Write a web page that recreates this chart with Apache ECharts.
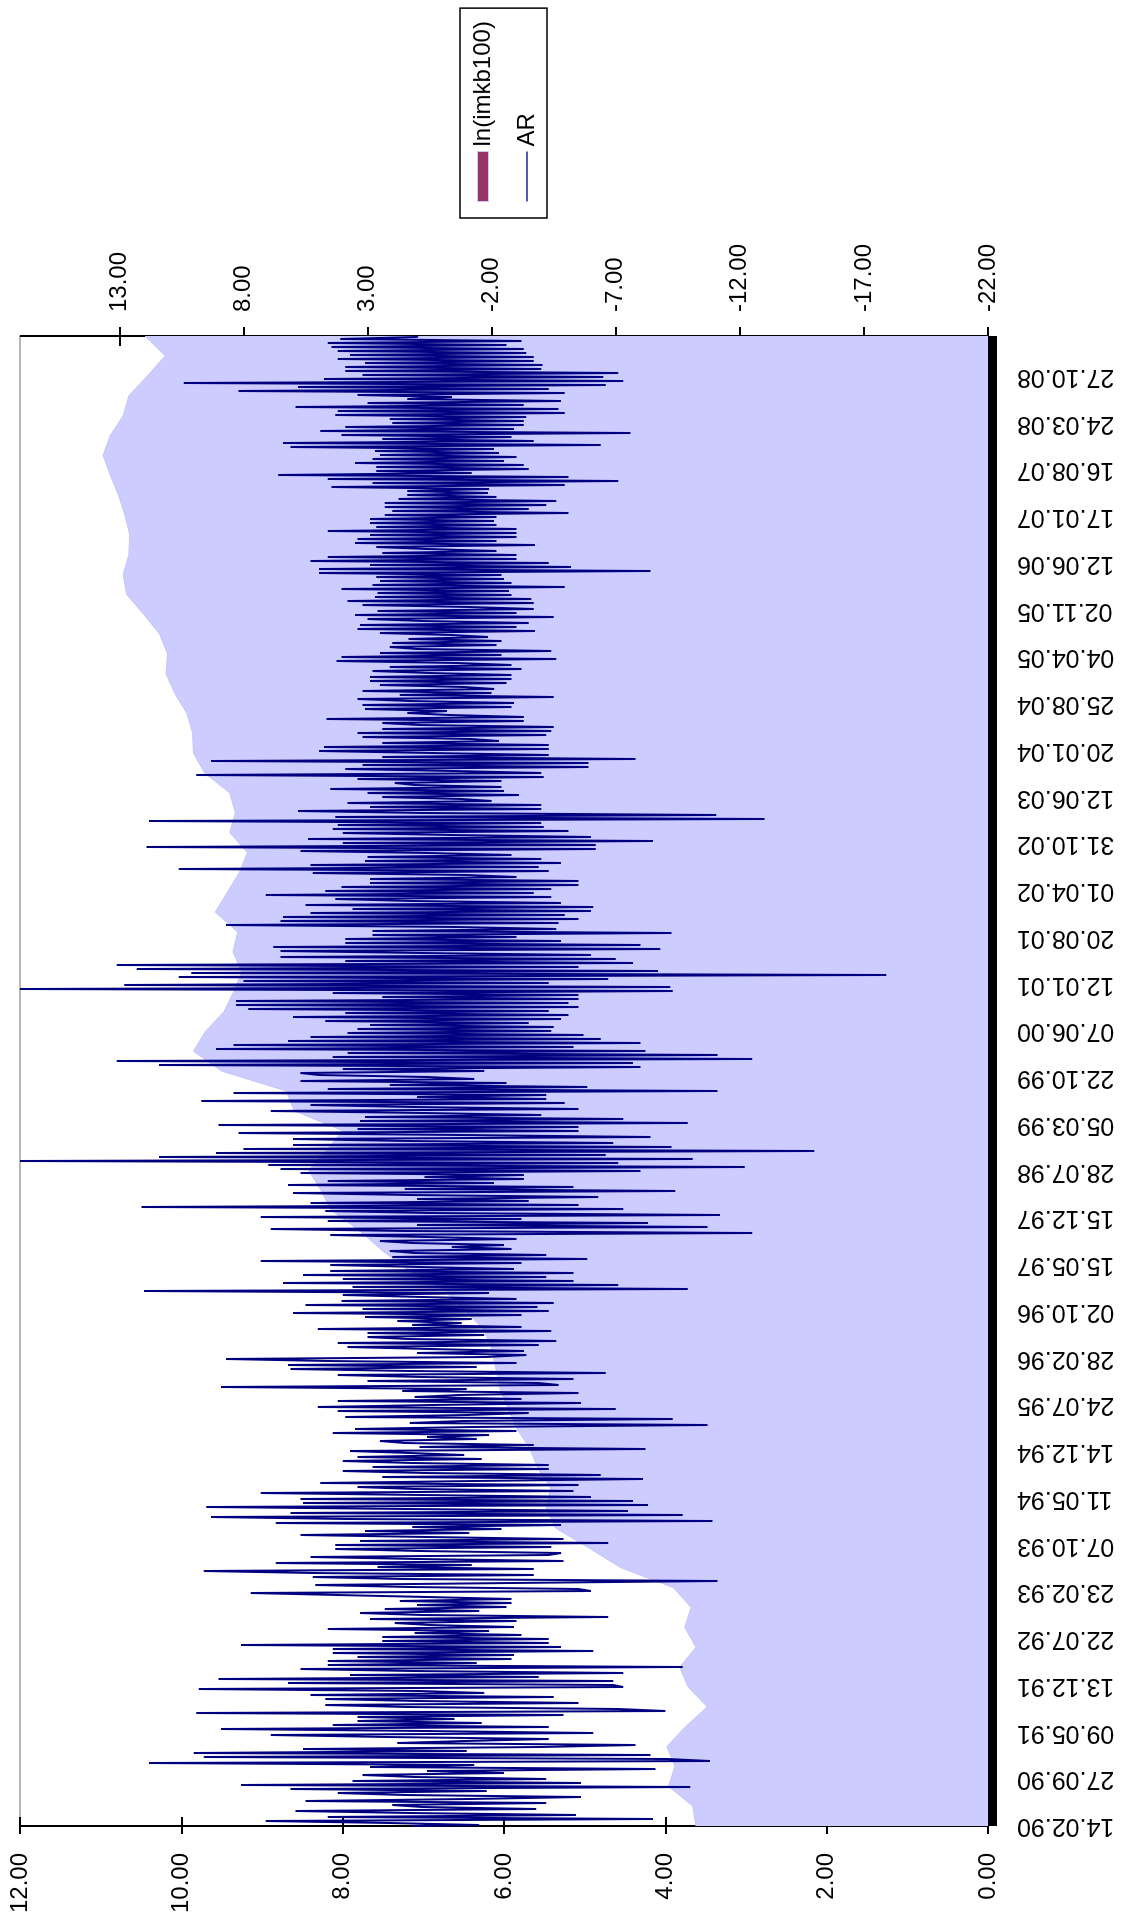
<!DOCTYPE html>
<html>
<head>
<meta charset="utf-8">
<script src="https://cdn.jsdelivr.net/npm/echarts@6/dist/echarts.min.js"></script>
<style>
html,body{margin:0;padding:0;width:1126px;height:1919px;overflow:hidden;background:#ffffff;}
#chart{position:absolute;left:0;top:0;width:1919px;height:1126px;transform-origin:0 0;transform:translate(0,1919px) rotate(-90deg);background:#fff;}
</style>
</head>
<body>
<div id="chart"></div>
<script>
// ---- tick labels (category dates, one every LABEL_STEP trading days) ----
const dateLabels = ['14.02.90','27.09.90','09.05.91','13.12.91','22.07.92','23.02.93','07.10.93','11.05.94',
  '14.12.94','24.07.95','28.02.96','02.10.96','15.05.97','15.12.97','28.07.98','05.03.99','22.10.99',
  '07.06.00','12.01.01','20.08.01','01.04.02','31.10.02','12.06.03','20.01.04','25.08.04','04.04.05',
  '02.11.05','12.06.06','17.01.07','16.08.07','24.03.08','27.10.08'];
const TRADING_DAYS = 4782;
const LABEL_STEP = 150;
const lnTicks = [0, 2, 4, 6, 8, 10, 12];
const arTicks = [-22, -17, -12, -7, -2, 3, 8, 13];

// ---- ln(imkb100), read along the whole period (evenly spaced) ----
const lnValues = [3.62,3.66,3.96,3.88,3.98,3.75,3.48,3.72,3.82,3.62,
  3.76,3.68,3.90,4.55,4.95,5.36,5.48,5.42,5.58,5.68,
  5.84,5.95,6.05,6.10,6.15,6.25,6.50,6.75,7.20,7.52,
  7.80,8.14,8.27,8.42,8.20,8.00,8.60,8.70,9.50,9.85,
  9.70,9.47,9.35,9.25,9.36,9.30,9.58,9.43,9.28,9.18,
  9.40,9.33,9.40,9.71,9.85,9.86,9.93,10.08,10.19,10.17,
  10.27,10.47,10.68,10.72,10.65,10.64,10.70,10.78,10.88,10.97,
  10.88,10.72,10.65,10.42,10.20,10.45];

// ---- AR (returns), read period by period (evenly spaced samples) ----
const ar1990_92 = [1.2,-1.5,2.1,7.1,-8.5,4.6,-5.4,1.3,5.9,-3.8,
  0.8,2.0,-4.2,5.5,-1.1,-5.6,1.5,4.2,-1.8,6.1,
  -10.0,8.1,-5.6,3.6,-4.2,1.1,3.2,-2.5,0.6,-8.6,
  2.9,-1.3,11.8,-10.8,-9.1,9.6,-8.4,10.0,-1.0,5.6,
  -4.0,-7.8,1.8,-0.9,-4.3,2.2,6.9,-6.1,0.7,8.9,
  -4.3,4.4,-1.6,3.4,-0.5,3.4,-4.9,9.9,-9.0,-7.1,
  1.4,4.7,-5.5,1.0,4.7,-4.5,5.3,-1.7,0.9,9.8,
  -7.3,-6.9,6.2,-6.9,9.0,-3.9,3.7,-7.3,1.2,5.7,
  -9.7,4.6,-1.4,4.6,-2.8,3.4,-2.9,4.4,-6.1,4.4,
  -4.8,8.1,-4.3,2.4,-4.3,2.4,-3.2,1.1,-1.9,4.6,
  -2.9,0.5,1.9,-3.0,2.9,-6.7,0.8,3.3,-1.5,2.3,
  -2.6,1.0,-2.8,1.7,-2.8,0.6,4.2,7.7,-6.0,-5.5,
  1.3,5.1,-2.8,-11.1,1.6,5.2,-3.7,5.2,9.6];
const ar1992_95 = [-3.7,2.6,-1.2,6.7,-4.9,1.0,5.3,-4.3,-4.8,0.9,
  4.3,-4.4,4.3,-6.7,3.3,-4.9,0.6,5.7,-1.1,3.1,
  -2.4,1.2,-4.8,6.7,-10.9,3.8,9.3,-9.7,6.1,-7.5,
  1.4,9.5,-8.3,5.6,-7.7,5.7,-6.0,0.8,7.3,-5.3,
  1.1,3.4,-5.5,4.9,-1.3,-8.1,2.4,-6.4,0.7,4.0,
  -4.3,2.8,-4.3,1.2,4.0,-1.6,3.4,-0.9,1.3,3.7,
  -8.2,0.9,-3.7,1.5,2.5,-1.4,0.6,-1.9,4.4,-3.0,
  3.5,-1.2,-10.7,1.3,-0.8,-9.3,3.9,-1.0,-3.5,4.2,
  -7.0,5.0,0.4,-5.6,4.2,-3.2,1.1,-0.7,-5.5,1.6,
  -1.0,8.9,-4.7,-3.9,3.0,-5.3,0.8,4.2,-6.6,1.3,
  6.1,-1.4,6.2,-3.0,4.6,8.7,-1.8,-3.4,1.0,-3.3,
  0.5,3.8,-3.9,4.2,-4.6,1.4,3.0,-1.7,3.0,-4.4,
  5.0,-3.2,1.2,-0.8];
const ar1995_99 = [1.8,-1.2,3.1,-3.2,6.0,-4.3,3.2,-3.85,5.5,-4.5,
  4.05,-3.0,0.8,4.0,-1.9,12.0,-9.9,3.6,-7.1,6.4,
  -5.3,4.0,-4.2,5.6,-5.3,4.5,-2.9,0.9,4.5,-3.2,
  7.3,-5.85,2.0,-4.2,1.1,2.1,-2.8,-0.4,-2.5,1.2,
  2.5,-3.0,0.6,4.5,-12.5,1.5,6.9,-10.7,1.0,-8.3,
  4.6,-3.2,7.3,-11.2,0.5,4.7,-7.3,12.1,-5.5,5.3,
  -3.5,1.0,-6.3,1.3,6.0,-9.4,1.5,-5.3,6.2,-2.1,
  4.6,-3.3,0.7,-3.3,5.7,-8.0,6.5,-12.2,7.0,-7.1,
  17.0,-10.1,11.4,-6.6,9.1,-15.0,8.0,-9.25,6.0,-6.9,
  1.4,6.0,-8.4,-0.8,8.2,-5.5,3.4,-5.5,9.0,-9.9,
  3.3,-7.3,3.1,-4.0,0.7,6.9,-5.5,1.2,5.3,-4.95,
  9.7,-4.2,1.0,-4.2,8.4,-11.1,4.6,-5.85,2.1,-2.6,
  5.7,-1.3,0.6,4.95];
const ar1999_02 = [5.7,-1.7,4.0,-8.0,11.4,-7.7,13.1,-12.5,4.4,-11.1,
  3.8,-8.2,9.1,-5.3,8.4,-8.0,6.2,-6.4,5.3,-5.7,
  3.8,-4.4,3.4,-4.5,2.9,-3.5,4.7,-4.8,6.0,-5.1,
  3.9,-4.3,7.8,-5.5,8.3,-5.1,8.3,-5.5,2.4,-5.5,
  4.4,-9.3,17.0,-9.2,12.8,-4.3,8.0,-6.7,10.6,-17.9,
  10.1,-8.7,12.3,-5.5,13.1,-7.7,3.9,-7.0,6.5,-6.0,
  0.8,6.5,-8.8,6.8,-8.0,3.9,-4.8,3.9,-3.0,2.8,
  -9.25,2.8,-4.6,-0.6,8.7,-4.7,6.5,-5.5,6.4,-4.95,
  5.3,-6.0,3.6,-6.1,5.5,-4.8,1.2,4.3,-4.4,7.1,
  -3.7,4.7,-4.4,4.05,-5.5,2.9,-5.5,2.9,-3.0,-1.0,
  5.2,-4.3,10.6,-3.9,5.3,-4.8,3.1,-4.0,3.0,-2.8,
  0.5,5.7,-6.2,11.9,-6.2,4.0,-8.5,5.4,-6.0,-0.4,
  4.0,-5.1,4.4,-4.1];
const ar2002_05 = [4.2,-4.0,11.8,-13.0,4.3,-11.05,0.7,5.8,-4.0,2.9,
  -4.0,3.8,-2.0,-0.8,2.4,-3.1,3.0,-2.5,4.5,-2.4,
  1.1,1.9,-2.4,3.4,-4.1,9.9,-4.0,-0.5,3.9,-5.9,
  3.2,-5.9,9.3,-7.8,2.4,-4.3,0.4,4.95,-4.3,4.75,
  -4.3,2.4,-2.3,-1.2,3.2,-4.2,3.4,-4.4,2.4,-4.5,
  0.9,2.4,-3.3,4.65,-3.3,-0.3,1.4,-0.2,3.1,-2.8,
  3.2,-2.9,1.3,3.4,-4.5,1.7,-2.0,3.2,-2.1,-0.9,
  2.5,-2.6,2.9,-2.8,2.9,-2.8,0.5,2.8,-3.2,2.1,
  -2.8,-0.6,4.25,-4.6,4.05,-2.4,2.5,-4.4,1.0,2.1,
  -2.2,2.0,-2.4,1.35,-1.85,-0.4,2.5,-3.75,3.4,-3.0,
  3.3,-3.5,0.8,3.0,-4.5,3.5,-3.0,2.6,-3.7,-1.1,
  3.2,-3.7,3.8,-3.6,2.7,-2.8,2.6,-2.7,4.05,-4.95,
  2.8,-2.8,2.5,-2.5];
const ar2005_08 = [2.65,-2.4,4.95,-8.4,4.95,-5.2,2.9,-4.3,5.3,-3.0,
  4.6,-3.0,2.4,-2.2,0.6,2.65,-3.75,3.5,-2.2,3.4,
  -3.0,2.9,-3.0,4.6,-3.0,2.65,-2.2,2.9,-2.1,2.9,
  -2.2,2.3,-5.1,2.0,-3.5,2.3,-4.2,2.3,-4.6,1.75,
  -2.2,1.4,-1.85,1.4,-1.9,4.45,-4.95,2.8,-7.1,4.6,
  -5.1,6.6,-1.2,2.65,-3.5,2.65,-3.3,3.5,-2.5,2.8,
  -3.0,2.5,-2.3,2.7,-2.1,6.1,-6.4,6.4,-3.7,2.4,
  -2.8,4.05,-7.6,4.9,-2.9,3.9,-3.3,2.0,-3.3,2.1,
  -3.4,4.3,-4.95,4.2,-4.7,5.9,-3.3,3.0,-4.8,1.4,
  -0.4,3.4,-4.95,8.2,-4.3,5.8,-6.6,10.4,-7.3,4.75,
  -6.5,3.2,-7.1,3.9,-4.0,3.9,-4.05,3.1,-3.7,4.2,
  -3.7,3.7,-3.4,4.2,-3.3,4.45,-2.6,4.6,-3.2,4.1,
  1.0];

// ---- build option ----
const FONT = "'Liberation Sans', Arial, sans-serif";
function spread(values) {
  const n = values.length;
  return values.map((v, i) => [i * (TRADING_DAYS - 1) / (n - 1), v]);
}
const arValues = [].concat(ar1990_92, ar1992_95, ar1995_99, ar1999_02, ar2002_05, ar2005_08);
const lnData = spread(lnValues);
const arData = spread(arValues);
const dateTickValues = dateLabels.map((_, i) => i * LABEL_STEP);

const chart = echarts.init(document.getElementById('chart'), null, {renderer: 'canvas'});
const option = {
  animation: false,
  backgroundColor: '#ffffff',
  grid: {left: 93, right: 336, top: 20, bottom: 138, show: true, borderColor: '#a0a0a0', borderWidth: 1.5,
         containLabel: false, outerBoundsMode: 'none'},
  legend: {
    orient: 'vertical', left: 1701, top: 460, padding: [11, 13, 8, 16], itemGap: 20,
    itemWidth: 50, itemHeight: 11, itemTextGap: 5, selectedMode: false,
    borderColor: '#000000', borderWidth: 1.5, backgroundColor: '#ffffff',
    textStyle: {fontSize: 24, color: '#000000', fontFamily: FONT},
    data: [
      {name: 'ln(imkb100)', icon: 'rect', itemStyle: {color: '#993366', borderColor: '#c8c8ff', borderWidth: 1}},
      {name: 'AR', icon: 'path://M0,0L50,0L50,1.3L0,1.3Z', itemStyle: {color: '#2020a0', borderWidth: 0}}
    ]
  },
  xAxis: {
    type: 'value', min: 0, max: TRADING_DAYS - 1, interval: LABEL_STEP, position: 'bottom',
    axisLine: {show: true, onZero: false, lineStyle: {color: '#000000', width: 18, cap: 'butt'}},
    axisTick: {show: false}, splitLine: {show: false},
    axisLabel: {
      rotate: 90, margin: 29, fontSize: 25, color: '#000000', fontFamily: FONT,
      customValues: dateTickValues, hideOverlap: false,
      formatter: v => (Math.abs(v / LABEL_STEP - Math.round(v / LABEL_STEP)) < 1e-6 ? (dateLabels[Math.round(v / LABEL_STEP)] || '') : '')
    }
  },
  yAxis: [
    { type: 'value', min: 0, max: 12, interval: 2, position: 'left',
      axisLine: {show: true, lineStyle: {color: '#000000', width: 2, cap: 'butt'}},
      axisTick: {show: true, length: 8, lineStyle: {color: '#000000', width: 2}, customValues: lnTicks},
      splitLine: {show: false},
      axisLabel: {margin: 27, fontSize: 24, color: '#000000', fontFamily: FONT, customValues: lnTicks,
                  formatter: v => v.toFixed(2)} },
    { type: 'value', min: -22, max: 17, position: 'right',
      axisLine: {show: true, lineStyle: {color: '#000000', width: 2, cap: 'butt'}},
      axisTick: {show: true, length: 9, lineStyle: {color: '#000000', width: 2}, customValues: arTicks},
      splitLine: {show: false},
      axisLabel: {margin: 24, fontSize: 24, color: '#000000', fontFamily: FONT, customValues: arTicks,
                  formatter: v => (arTicks.indexOf(Math.round(v)) >= 0 ? v.toFixed(2) : '')} },
    { type: 'value', min: 0, max: 12, interval: 2, position: 'left',
      axisLine: {show: false}, axisLabel: {show: false}, splitLine: {show: false},
      axisTick: {show: true, inside: true, length: 9, lineStyle: {color: '#000000', width: 2}, customValues: lnTicks} },
    { type: 'value', min: -22, max: 17, position: 'right',
      axisLine: {show: false}, axisLabel: {show: false}, splitLine: {show: false},
      axisTick: {show: true, inside: true, length: 10, lineStyle: {color: '#000000', width: 2}, customValues: arTicks} }
  ],
  series: [
    { name: 'ln(imkb100)', type: 'line', yAxisIndex: 0, data: lnData, symbol: 'none', showSymbol: false,
      lineStyle: {color: '#c4c4f8', width: 1}, itemStyle: {color: '#993366'},
      areaStyle: {color: '#ccccff', opacity: 1}, silent: true, z: 1 },
    { name: 'AR', type: 'line', yAxisIndex: 1, data: arData, symbol: 'none', showSymbol: false, step: 'middle',
      lineStyle: {color: '#000080', width: 2}, itemStyle: {color: '#000080'}, silent: true, z: 3 }
  ]
};
chart.setOption(option);
</script>
</body>
</html>
